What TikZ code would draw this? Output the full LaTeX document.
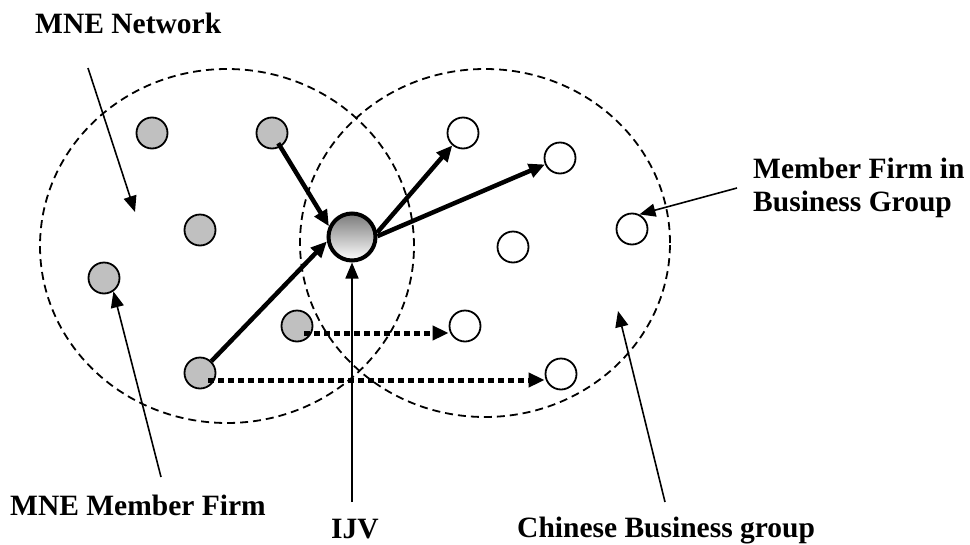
\documentclass[tikz,border=0pt]{standalone}
\usepackage{fontspec}
\setmainfont{Liberation Serif}
\usetikzlibrary{arrows.meta,calc}
\definecolor{mnegray}{HTML}{C0C0C0}

\begin{document}
\begin{tikzpicture}[x=1pt,y=-1pt,
  font=\fontsize{29.5}{33}\selectfont\bfseries,
  region/.style={draw, dash pattern=on 8pt off 5pt, line width=1.8pt},
  mne/.style={circle, draw, line width=1.8pt, fill=mnegray, minimum size=31pt, inner sep=0pt},
  cbg/.style={circle, draw, line width=1.8pt, fill=white, minimum size=31pt, inner sep=0pt},
  jv/.style={circle, draw, line width=4pt, minimum size=47pt, inner sep=0pt,
             top color=black!52, bottom color=white},
  tie/.style={line width=4.5pt, -{Triangle[length=16pt,width=14pt]}},
  spill/.style={line width=5pt, dash pattern=on 6pt off 4pt, -{Triangle[length=16pt,width=14pt]}},
  pointer/.style={line width=1.6pt, -{Triangle[length=16pt,width=13pt]}},
  caption/.style={anchor=base west, inner sep=0pt}
]
\useasboundingbox (0,0) rectangle (970,544);

% the two networks
\draw[region] (227,246) ellipse [x radius=187pt, y radius=177pt];
\draw[region] (485,243) ellipse [x radius=185pt, y radius=174pt];

% MNE member firms
\node[mne] (g1) at (152,133) {};
\node[mne] (g2) at (272,133) {};
\node[mne] (g3) at (200,230) {};
\node[mne] (g4) at (104,278) {};
\node[mne] (g5) at (297,326) {};
\node[mne] (g6) at (200,373) {};

% Chinese business group members
\node[cbg] (w1) at (463,133) {};
\node[cbg] (w2) at (560,158) {};
\node[cbg] (w3) at (632,229) {};
\node[cbg] (w4) at (513,247) {};
\node[cbg] (w5) at (465,326) {};
\node[cbg] (w6) at (561,374) {};

% the joint venture
\node[jv] (ijv) at (352,237) {};

% ties through the joint venture
\draw[tie] ($(g2)!12pt!(ijv.155)$) -- (ijv.155);
\draw[tie] (g6) -- (ijv.190);
\draw[tie] (ijv.10) -- (w1);
\draw[tie] (ijv.2) -- (w2);

% indirect links
\draw[spill] ([shift={(7pt,-7pt)}]g5.center) -- ([yshift=-7pt]g5.center -| w5.west);
\draw[spill] ([shift={(8pt,-7pt)}]g6.center) -- ([yshift=-7pt]g6.center -| w6.west);

% labels
\node[caption] (tNet) at (35,33) {MNE Network};
\node[caption] (tMember) at (10,515) {MNE Member Firm};
\node[caption] (tIJV) at (331,538) {IJV};
\node[caption] (tChinese) at (517,537) {Chinese Business group};
\node[caption] (tFirm1) at (753,178) {Member Firm in};
\node[caption] (tFirm2) at (753,211) {Business Group};

% label pointers
\coordinate (netTail) at (88,68);
\coordinate (netTip) at (135,212);
\coordinate (memTail) at (161,477);
\coordinate (ijvTail) at (352,502);
\coordinate (cbgTail) at (665,502);
\coordinate (cbgTip) at (618,311);
\coordinate (firmTail) at (737,188);

\draw[pointer] (netTail) -- (netTip);
\draw[pointer] (memTail) -- (g4.-55);
\draw[pointer] (ijvTail) -- (ijv.south);
\draw[pointer] (cbgTail) -- (cbgTip);
\draw[pointer] (firmTail) -- (w3.63);
\end{tikzpicture}
\end{document}
